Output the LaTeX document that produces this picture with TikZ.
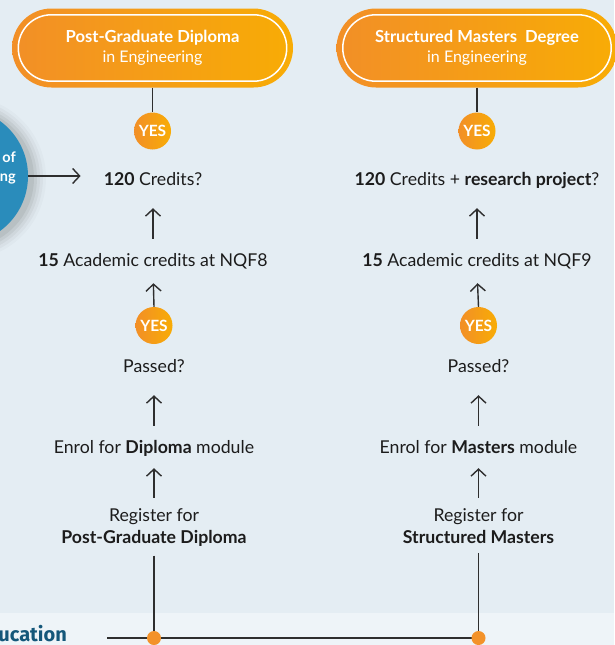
\documentclass[tikz,border=0pt]{standalone}
\usepackage{fontspec}
\setmainfont{Lato}
\newfontfamily\edufont{Fira Sans}
\usetikzlibrary{arrows.meta}
\definecolor{bgA}{HTML}{E4EDF3}
\definecolor{bgB}{HTML}{EEF4F8}
\definecolor{orA}{HTML}{F28F27}
\definecolor{orB}{HTML}{F8AC05}
\definecolor{orDot}{HTML}{F3922A}
\definecolor{blu}{HTML}{2A8CBB}
\definecolor{ink}{HTML}{1C1C1C}
\definecolor{lineC}{HTML}{2E2E2E}
\definecolor{edu}{HTML}{14577A}
\begin{document}
\begin{tikzpicture}[x=1pt,y=-1pt,
  txt/.style={font=\fontsize{17.7}{22}\selectfont, text=ink, inner sep=0pt, anchor=base, text height=13pt, text depth=3.6pt},
  txt2/.style={font=\fontsize{17.7}{22}\selectfont, text=ink, inner sep=0pt, anchor=base, align=center},
  pill/.style={minimum width=281pt, minimum height=79pt, rounded corners=39.5pt, left color=orA, right color=orB, text=white, align=center, inner sep=0pt, font=\fontsize{16.6}{20}\selectfont},
  yes/.style={circle, minimum size=37pt, inner sep=0pt, left color=orA, right color=orB, text=white, font=\fontsize{15.5}{16}\selectfont\bfseries},
  ln/.style={draw=lineC, line width=1.4pt},
  arr/.style={ln, -{Straight Barb[length=7pt,width=15pt]}},
  dot/.style={circle, fill=orDot, minimum size=14pt, inner sep=0pt},
]
\useasboundingbox (0,0) rectangle (614,645);
\fill[bgA] (0,0) rectangle (614,613);
\fill[bgB] (0,613) rectangle (614,645);

% faculty circle with soft shadow
\foreach \r/\o in {82/0.02,79/0.03,76/0.04,73/0.05,70/0.06}
  \fill[black, opacity=\o] (-36,178) circle (\r);
\node[circle, fill=blu, minimum size=136pt, inner sep=0pt] (fac) at (-40,176) {};
\node[anchor=base east, inner sep=0pt, text=white, font=\fontsize{14.5}{16}\selectfont\bfseries] (fa) at (16,162) {of};
\node[anchor=base east, inner sep=0pt, text=white, font=\fontsize{14.5}{16}\selectfont\bfseries] (fb) at (16,181) {ng};

% pills
\node[pill] (p1) at (152.5,48) {\textbf{Post-Graduate Diploma}\\\fontsize{16}{20}\selectfont in Engineering};
\node[pill] (p2) at (477,48) {\textbf{Structured Masters\ \ Degree}\\\fontsize{16}{20}\selectfont in Engineering};
\draw[white, line width=1.5pt, rounded corners=33pt] ([xshift=6.5pt,yshift=-6.5pt]p1.north west) rectangle ([xshift=-6.5pt,yshift=6.5pt]p1.south east);
\draw[white, line width=1.5pt, rounded corners=33pt] ([xshift=6.5pt,yshift=-6.5pt]p2.north west) rectangle ([xshift=-6.5pt,yshift=6.5pt]p2.south east);

% YES circles
\node[yes] (y1) at (152.5,131) {YES};
\node[yes] (y2) at (477,131) {YES};
\node[yes] (y3) at (154,325.5) {YES};
\node[yes] (y4) at (478.5,325.5) {YES};
\draw[ln] (p1.south) -- (y1.north);
\draw[ln] (p2.south) -- (y2.north);

% left column
\node[txt] (l1) at (153,185) {\textbf{120} Credits?};
\node[txt] (l2) at (153,266) {\textbf{15} Academic credits at NQF8};
\node[txt] (l3) at (154,372) {Passed?};
\node[txt] (l4) at (154,453) {Enrol for \textbf{Diploma} module};
\node[txt2] (l5) at (154,543) {Register for\\\textbf{Post-Graduate Diploma}};

% right column
\node[txt] (r1) at (477,185) {\textbf{120} Credits + \textbf{research project}?};
\node[txt] (r2) at (477,266) {\textbf{15} Academic credits at NQF9};
\node[txt] (r3) at (478.5,372) {Passed?};
\node[txt] (r4) at (478.5,453) {Enrol for \textbf{Masters} module};
\node[txt2] (r5) at (478.5,543) {Register for\\\textbf{Structured Masters}};

% arrows
\draw[arr, shorten >=23pt] (fac.east) -- (fac.east -| l1.west);
\draw[arr, shorten <=14pt, shorten >=19.4pt] (l2.north) -- (l1.south);
\draw[arr, shorten >=13.4pt] (y3.north) -- (l2.south);
\draw[arr, shorten <=14pt, shorten >=19.4pt] (l4.north) -- (l3.south);
\draw[arr, shorten <=10pt, shorten >=11.4pt] (l5.north) -- (l4.south);

\draw[arr, shorten <=14pt, shorten >=19.4pt] (r2.north) -- (r1.south);
\draw[arr, shorten >=13.4pt] (y4.north) -- (r2.south);
\draw[arr, shorten <=14pt, shorten >=19.4pt] (r4.north) -- (r3.south);
\draw[arr, shorten <=10pt, shorten >=11.4pt] (r5.north) -- (r4.south);

% bottom connectors
\coordinate (c1) at (154,638);
\coordinate (c2) at (478.5,638);
\coordinate (ce) at (107,638);
\draw[ln, shorten <=9.5pt] (l5.south) -- (c1);
\draw[ln, shorten <=9.5pt] (r5.south) -- (c2);
\draw[ln] (ce) -- (c2);
\node[dot] (d1) at (c1) {};
\node[dot] (d2) at (c2) {};

\node[anchor=base east, inner sep=0pt, text=edu, font=\edufont\fontsize{20}{20}\selectfont\bfseries] (ed) at (67,641) {ucation};
\end{tikzpicture}
\end{document}
